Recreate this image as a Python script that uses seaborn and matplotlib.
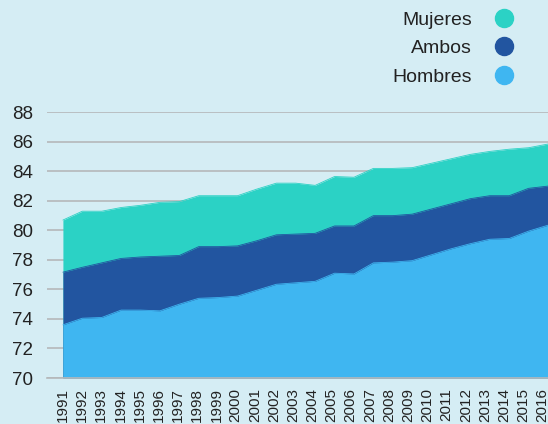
import matplotlib
matplotlib.use("Agg")
import matplotlib.pyplot as plt
from matplotlib.lines import Line2D
import seaborn as sns
import pandas as pd

years = list(range(1991, 2017))
mujeres = [80.7, 81.3, 81.3, 81.55, 81.7, 81.9, 81.95, 82.35, 82.35, 82.35, 82.8, 83.2, 83.2,
           83.05, 83.65, 83.6, 84.2, 84.2, 84.25, 84.55, 84.85, 85.15, 85.35, 85.5, 85.6, 85.85]
ambos = [77.17, 77.5, 77.8, 78.1, 78.2, 78.25, 78.3, 78.9, 78.9, 78.95, 79.3, 79.7, 79.75,
         79.8, 80.3, 80.3, 81.0, 81.0, 81.1, 81.45, 81.8, 82.15, 82.35, 82.35, 82.85, 83.0]
hombres = [73.6, 74.05, 74.1, 74.6, 74.6, 74.55, 75.0, 75.4, 75.45, 75.55, 75.95, 76.35, 76.45,
           76.55, 77.1, 77.05, 77.8, 77.85, 77.95, 78.35, 78.75, 79.1, 79.4, 79.45, 79.95, 80.35]
series_names = ["Mujeres", "Ambos", "Hombres"]
y_ticks = [70, 72, 74, 76, 78, 80, 82, 84, 86, 88]

colors = {"Mujeres": "#2bd2c5", "Ambos": "#2255a0", "Hombres": "#3fb6f1"}
bg = "#d5edf4"
txt = "#222222"

sns.set_style("white")
plt.rcParams["font.family"] = ["Liberation Sans", "DejaVu Sans"]

df = pd.DataFrame({"year": years, "Mujeres": mujeres, "Ambos": ambos, "Hombres": hombres})

fig = plt.figure(figsize=(5.48, 4.24), dpi=100, facecolor=bg)
ax = fig.add_axes([47 / 548, 1 - 378 / 424, 1 - 47 / 548, (378 - 112.3) / 424])
ax.set_facecolor(bg)

for i, name in enumerate(series_names):
    ax.fill_between(df["year"], 70, df[name], color=colors[name], linewidth=0, zorder=2 + i)
    sns.lineplot(data=df, x="year", y=name, ax=ax, color=colors[name], linewidth=0.6,
                 zorder=2 + i, legend=False)

# label and tick-mark placement (slightly compressed band, as in the reference)
y0 = years[0]
label_pos = [y0 + (y - y0) * 0.9887 for y in years]
tick_pos = [y0 + 0.4 + (y - y0) * 0.985 for y in years]

ax.set_yticks(y_ticks)
ax.set_yticklabels([str(v) for v in y_ticks], fontsize=13.5, color=txt)
ax.set_xticks(label_pos)
ax.set_xticklabels([str(y) for y in years], rotation=90, fontsize=11, color=txt)
ax.set_xticks(tick_pos, minor=True)
ax.set_xlim(1990.18, 2016.0)
ax.set_ylim(70, 88)
ax.tick_params(axis="x", which="major", length=0, pad=7.5)
ax.tick_params(axis="x", which="minor", length=3.6, width=0.8, color="#b5b8ba")
ax.tick_params(axis="y", length=0, pad=10)
ax.set_xlabel("")
ax.set_ylabel("")

ax.yaxis.grid(True, color="#b5b8ba", linewidth=1.2)
ax.set_axisbelow(True)
for s in ["top", "right", "left"]:
    ax.spines[s].set_visible(False)
ax.spines["bottom"].set_color("#b5b8ba")
ax.spines["bottom"].set_linewidth(1.2)
ax.spines["bottom"].set_zorder(10)

handles = [Line2D([0], [0], marker="o", linestyle="", markersize=13,
                  markerfacecolor=colors[n], markeredgecolor=colors[n]) for n in series_names]
fig.legend(handles, series_names, loc="upper right", bbox_to_anchor=(513 / 548, 1 - 11 / 424),
           markerfirst=False, frameon=False, fontsize=14, handlelength=0.95,
           handletextpad=1.15, labelspacing=0.56, borderpad=0, borderaxespad=0,
           labelcolor=txt)

fig.savefig("out.png", dpi=100, facecolor=bg)
